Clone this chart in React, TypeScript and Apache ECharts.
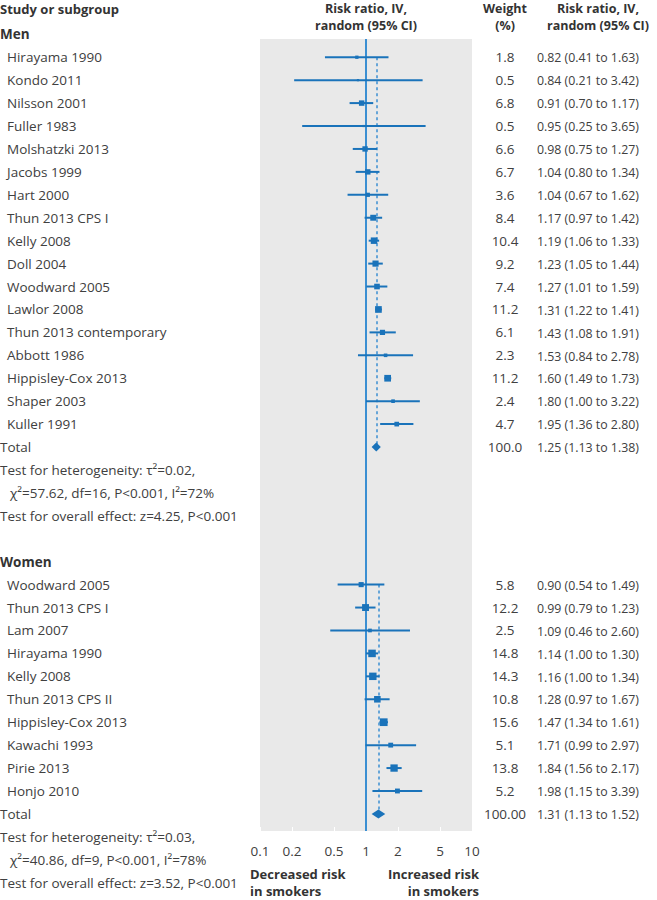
import React, { useEffect, useRef } from 'react';
import * as echarts from 'echarts';

// ---------- data ----------
const menStudies = ['Hirayama 1990', 'Kondo 2011', 'Nilsson 2001', 'Fuller 1983', 'Molshatzki 2013', 'Jacobs 1999', 'Hart 2000', 'Thun 2013 CPS I', 'Kelly 2008', 'Doll 2004', 'Woodward 2005', 'Lawlor 2008', 'Thun 2013 contemporary', 'Abbott 1986', 'Hippisley-Cox 2013', 'Shaper 2003', 'Kuller 1991'];
const menWeight = ['1.8', '0.5', '6.8', '0.5', '6.6', '6.7', '3.6', '8.4', '10.4', '9.2', '7.4', '11.2', '6.1', '2.3', '11.2', '2.4', '4.7'];
const menRR = [0.82, 0.84, 0.91, 0.95, 0.98, 1.04, 1.04, 1.17, 1.19, 1.23, 1.27, 1.31, 1.43, 1.53, 1.60, 1.80, 1.95];
const menLo = [0.41, 0.21, 0.70, 0.25, 0.75, 0.80, 0.67, 0.97, 1.06, 1.05, 1.01, 1.22, 1.08, 0.84, 1.49, 1.00, 1.36];
const menHi = [1.63, 3.42, 1.17, 3.65, 1.27, 1.34, 1.62, 1.42, 1.33, 1.44, 1.59, 1.41, 1.91, 2.78, 1.73, 3.22, 2.80];
const menTotal = { rr: 1.25, lo: 1.13, hi: 1.38, weight: '100.0' };
const menTests = ['Test for heterogeneity: τ²=0.02,', 'χ²=57.62, df=16, P<0.001, I²=72%', 'Test for overall effect: z=4.25, P<0.001'];

const womenStudies = ['Woodward 2005', 'Thun 2013 CPS I', 'Lam 2007', 'Hirayama 1990', 'Kelly 2008', 'Thun 2013 CPS II', 'Hippisley-Cox 2013', 'Kawachi 1993', 'Pirie 2013', 'Honjo 2010'];
const womenWeight = ['5.8', '12.2', '2.5', '14.8', '14.3', '10.8', '15.6', '5.1', '13.8', '5.2'];
const womenRR = [0.90, 0.99, 1.09, 1.14, 1.16, 1.28, 1.47, 1.71, 1.84, 1.98];
const womenLo = [0.54, 0.79, 0.46, 1.00, 1.00, 0.97, 1.34, 0.99, 1.56, 1.15];
const womenHi = [1.49, 1.23, 2.60, 1.30, 1.34, 1.67, 1.61, 2.97, 2.17, 3.39];
const womenTotal = { rr: 1.31, lo: 1.13, hi: 1.52, weight: '100.00' };
const womenTests = ['Test for heterogeneity: τ²=0.03,', 'χ²=40.86, df=9, P<0.001, I²=78%', 'Test for overall effect: z=3.52, P<0.001'];

const tickValues = [0.1, 0.2, 0.5, 1, 2, 5, 10];
const plotHeader = ['Risk ratio, IV,', 'random (95% CI)'];
const weightHeader = ['Weight', '(%)'];
const footLeft = ['Decreased risk', 'in smokers'];
const footRight = ['Increased risk', 'in smokers'];

// ---------- style ----------
const BLUE = '#1a73ba';
const BLUE_LIGHT = '#3b8fd2';
const FONT = "'Open Sans', sans-serif";
const TEXT = '#404040';
const HEAD = '#333333';
const FS = 13.5;

const fmt = (v: number) => v.toFixed(2);

export default function App() {
  const ref = useRef<HTMLDivElement>(null);
  useEffect(() => {
    const chart = echarts.init(ref.current!, null, { renderer: 'svg' });

    const menStart = 0;
    const menTotalRow = menStart + menStudies.length; // 17
    const womenHeaderRow = menTotalRow + 5; // 22
    const womenStart = womenHeaderRow + 1; // 23
    const womenTotalRow = womenStart + womenStudies.length; // 33

    const studyData: number[][] = [];
    menRR.forEach((v, i) => studyData.push([v, menLo[i], menHi[i], menStart + i, parseFloat(menWeight[i])]));
    womenRR.forEach((v, i) => studyData.push([v, womenLo[i], womenHi[i], womenStart + i, parseFloat(womenWeight[i])]));
    const totalData = [
      [menTotal.rr, menTotal.lo, menTotal.hi, menTotalRow],
      [womenTotal.rr, womenTotal.lo, womenTotal.hi, womenTotalRow],
    ];

    chart.setOption({
      animation: false,
      grid: {
        left: 260, top: 39, width: 212, height: 792,
        show: true, backgroundColor: '#e9e9e9', borderWidth: 0,
      },
      xAxis: {
        type: 'log', logBase: 10, min: 0.1, max: 10,
        position: 'bottom',
        axisLine: { show: false, onZero: false },
        splitLine: { show: false },
        axisTick: { show: true, inside: true, length: 4, lineStyle: { color: '#ffffff', width: 1 }, customValues: tickValues },
        axisLabel: {
          customValues: tickValues,
          formatter: (v: number) => String(v),
          color: TEXT, fontFamily: FONT, fontSize: FS, margin: 13,
        },
      },
      yAxis: { type: 'value', inverse: true, min: -0.795, max: 33.745, show: false },
      series: [
        {
          type: 'custom',
          z: 3,
          data: studyData,
          encode: { x: [0, 1, 2], y: 3 },
          clip: false,
          renderItem: (params: any, api: any) => {
            const est = api.value(0), lo = api.value(1), hi = api.value(2), row = api.value(3), w = api.value(4);
            const pLo = api.coord([lo, row]);
            const pHi = api.coord([hi, row]);
            const pE = api.coord([est, row]);
            const s = 1.7 * Math.sqrt(w) + 1;
            return {
              type: 'group',
              children: [
                { type: 'line', shape: { x1: pLo[0], y1: pLo[1], x2: pHi[0], y2: pHi[1] }, style: { stroke: BLUE, lineWidth: 2 } },
                { type: 'rect', shape: { x: pE[0] - s / 2, y: pE[1] - s / 2, width: s, height: s }, style: { fill: BLUE } },
              ],
            };
          },
          markLine: {
            silent: true, symbol: 'none', label: { show: false },
            lineStyle: { color: BLUE_LIGHT, width: 2, type: 'solid' },
            data: [{ xAxis: 1 }],
            z: 2,
          },
        },
        {
          type: 'custom',
          z: 3,
          data: totalData,
          encode: { x: [0, 1, 2], y: 3 },
          clip: false,
          renderItem: (params: any, api: any) => {
            const est = api.value(0), lo = api.value(1), hi = api.value(2), row = api.value(3);
            const pLo = api.coord([lo, row]);
            const pHi = api.coord([hi, row]);
            const pE = api.coord([est, row]);
            const h = 4.5;
            return {
              type: 'polygon',
              shape: { points: [[pLo[0], pLo[1]], [pE[0], pE[1] - h], [pHi[0], pHi[1]], [pE[0], pE[1] + h]] },
              style: { fill: BLUE },
            };
          },
          markLine: {
            silent: true, symbol: 'none', label: { show: false },
            lineStyle: { color: BLUE_LIGHT, width: 1.5, type: [3, 3] },
            data: [
              [{ coord: [menTotal.rr, menStart] }, { coord: [menTotal.rr, menTotalRow] }],
              [{ coord: [womenTotal.rr, womenStart] }, { coord: [womenTotal.rr, womenTotalRow] }],
            ],
            z: 1,
          },
        },
      ],
    });

    const rowY = (r: number) => chart.convertToPixel({ yAxisIndex: 0 }, r) as number;

    const txt = (x: number, y: number, text: string, opts: any = {}) => ({
      type: 'text',
      x, y,
      scaleX: opts.scaleX ?? 1,
      style: {
        x: 0, y: 0,
        text,
        fill: opts.fill ?? TEXT,
        fontFamily: FONT,
        fontSize: opts.fontSize ?? FS,
        fontWeight: opts.bold ? 'bold' : 'normal',
        align: opts.align ?? 'left',
        textAlign: opts.align ?? 'left',
        verticalAlign: 'middle',
        textVerticalAlign: 'middle',
      },
      silent: true,
    });
    const HB = { bold: true, fill: HEAD, fontSize: 13 };
    const HC = { bold: true, fill: HEAD, fontSize: 12.5, align: 'center' };

    const els: any[] = [];
    // headers
    els.push(txt(0, 9, 'Study or subgroup', HB));
    plotHeader.forEach((t, i) => els.push(txt(366, 8.8 + i * 17, t, HC)));
    weightHeader.forEach((t, i) => els.push(txt(505, 8.8 + i * 17, t, HC)));
    plotHeader.forEach((t, i) => els.push(txt(598, 8.8 + i * 17, t, HC)));

    const CI_SCALE = 0.915;
    const addGroup = (header: string, headerRow: number, start: number, studies: string[], weights: string[], rr: number[], lo: number[], hi: number[], total: any, totalRow: number, tests: string[]) => {
      els.push(txt(0, rowY(headerRow), header, { bold: true, fill: HEAD }));
      studies.forEach((s, i) => {
        const y = rowY(start + i);
        els.push(txt(7, y, s));
        els.push(txt(505, y, weights[i], { align: 'center' }));
        els.push(txt(537, y, `${fmt(rr[i])} (${fmt(lo[i])} to ${fmt(hi[i])})`, { scaleX: CI_SCALE }));
      });
      const ty = rowY(totalRow);
      els.push(txt(0, ty, 'Total'));
      els.push(txt(505, ty, total.weight, { align: 'center' }));
      els.push(txt(537, ty, `${fmt(total.rr)} (${fmt(total.lo)} to ${fmt(total.hi)})`, { scaleX: CI_SCALE }));
      els.push(txt(0, rowY(totalRow + 1), tests[0]));
      els.push(txt(10, rowY(totalRow + 2), tests[1]));
      els.push(txt(0, rowY(totalRow + 3), tests[2]));
    };
    addGroup('Men', menStart - 1, menStart, menStudies, menWeight, menRR, menLo, menHi, menTotal, menTotalRow, menTests);
    addGroup('Women', womenHeaderRow, womenStart, womenStudies, womenWeight, womenRR, womenLo, womenHi, womenTotal, womenTotalRow, womenTests);

    footLeft.forEach((t, i) => els.push(txt(250, 874 + i * 17, t, HB)));
    footRight.forEach((t, i) => els.push(txt(479, 874 + i * 17, t, { ...HB, align: 'right' })));

    chart.setOption({ graphic: { elements: els } });

    return () => chart.dispose();
  }, []);
  return <div ref={ref} style={{ position: 'absolute', left: 0, top: 0, width: 657, height: 900 }} />;
}
